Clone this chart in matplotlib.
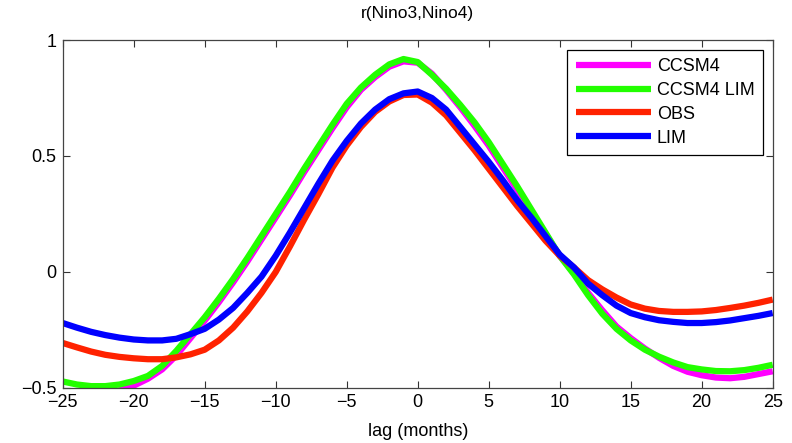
import numpy as np
import matplotlib
matplotlib.use("Agg")
import matplotlib.pyplot as plt

# lag in months
lags = np.arange(-25, 26)

# CCSM4
ccsm4 = [-0.53, -0.54, -0.54, -0.53, -0.51, -0.49, -0.46, -0.42, -0.36, -0.285,
         -0.21, -0.13, -0.045, 0.045, 0.14, 0.235, 0.33, 0.43, 0.525, 0.62,
         0.71, 0.785, 0.84, 0.885, 0.908, 0.902, 0.855, 0.785, 0.71, 0.63,
         0.545, 0.45, 0.355, 0.26, 0.165, 0.07, -0.005, -0.09, -0.165, -0.235,
         -0.285, -0.33, -0.37, -0.405, -0.43, -0.445, -0.455, -0.458, -0.452, -0.44,
         -0.428]

# CCSM4 LIM
ccsm4_lim = [-0.472, -0.485, -0.492, -0.492, -0.485, -0.47, -0.448, -0.405, -0.34, -0.268,
             -0.195, -0.115, -0.03, 0.06, 0.155, 0.25, 0.345, 0.445, 0.54, 0.635,
             0.725, 0.795, 0.85, 0.895, 0.918, 0.905, 0.85, 0.79, 0.72, 0.645,
             0.56, 0.465, 0.37, 0.27, 0.17, 0.07, -0.01, -0.10, -0.18, -0.245,
             -0.295, -0.335, -0.365, -0.39, -0.41, -0.42, -0.427, -0.428, -0.423, -0.413,
             -0.40]

# OBS
obs = [-0.306, -0.325, -0.343, -0.357, -0.366, -0.372, -0.376, -0.376, -0.368, -0.355,
       -0.335, -0.295, -0.24, -0.17, -0.09, 0.0, 0.11, 0.225, 0.335, 0.45,
       0.545, 0.625, 0.69, 0.735, 0.763, 0.765, 0.73, 0.675, 0.60, 0.525,
       0.445, 0.365, 0.285, 0.21, 0.135, 0.07, 0.02, -0.035, -0.075, -0.11,
       -0.14, -0.158, -0.168, -0.172, -0.172, -0.17, -0.164, -0.155, -0.145, -0.133,
       -0.119]

# LIM
lim = [-0.22, -0.24, -0.258, -0.272, -0.283, -0.291, -0.295, -0.295, -0.288, -0.268,
       -0.245, -0.205, -0.155, -0.09, -0.02, 0.07, 0.17, 0.275, 0.38, 0.48,
       0.565, 0.64, 0.70, 0.745, 0.77, 0.778, 0.75, 0.70, 0.625, 0.55,
       0.475, 0.395, 0.31, 0.235, 0.155, 0.075, 0.02, -0.05, -0.10, -0.145,
       -0.177, -0.195, -0.208, -0.215, -0.22, -0.22, -0.216, -0.209, -0.199, -0.189,
       -0.177]

series_names = ["CCSM4", "CCSM4 LIM", "OBS", "LIM"]
series_colors = ["#ff00ff", "#22ff00", "#ff2200", "#0000ff"]

xticks = [-25, -20, -15, -10, -5, 0, 5, 10, 15, 20, 25]
yticks = [-0.5, 0, 0.5, 1]
yticklabels = ["\u22120.5", "0", "0.5", "1"]

plt.rcParams["font.family"] = ["Liberation Sans", "DejaVu Sans"]

fig = plt.figure(figsize=(7.92, 4.43), dpi=100)
ax = fig.add_axes([0.0792, 0.1242, 0.8964, 0.7855])

for vals, name, col in zip([ccsm4, ccsm4_lim, obs, lim], series_names, series_colors):
    ax.plot(lags, vals, color=col, lw=4.5, label=name, solid_capstyle="butt")

ax.set_xlim(-25, 25)
ax.set_ylim(-0.5, 1)
ax.set_xticks(xticks)
ax.set_xticklabels([str(t).replace("-", "\u2212") for t in xticks])
ax.set_yticks(yticks)
ax.set_yticklabels(yticklabels)
ax.tick_params(direction="in", top=True, right=True, length=5, width=0.8,
               labelsize=13, colors="#333333", labelcolor="black")
ax.tick_params(axis="x", pad=4)
ax.tick_params(axis="y", pad=4.5)
for sp in ax.spines.values():
    sp.set_color("#444444")
    sp.set_linewidth(0.9)

ax.set_title("r(Nino3,Nino4)", fontsize=12.5, pad=16)
ax.set_xlabel("lag (months)", fontsize=13, labelpad=9)

leg = ax.legend(loc="upper right", fontsize=13, fancybox=False, framealpha=1,
                edgecolor="black", handlelength=4.2, handletextpad=0.3,
                borderpad=0.45, labelspacing=0.38, borderaxespad=0.55)
leg.get_frame().set_linewidth(0.9)

fig.savefig("out.png", dpi=100)
